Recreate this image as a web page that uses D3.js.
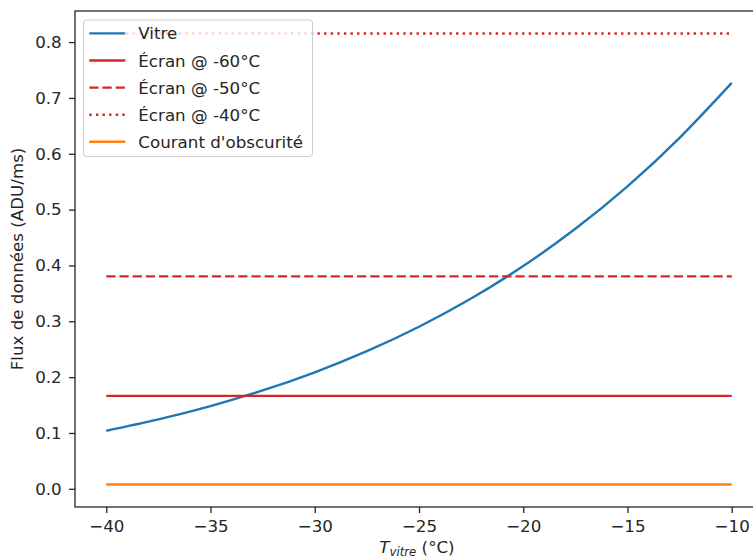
<!DOCTYPE html>
<html><head><meta charset="utf-8">
<script src="https://cdn.jsdelivr.net/npm/d3@7"></script>
<style>body{margin:0;background:#fff}svg{display:block}text{font-family:"DejaVu Sans",sans-serif}</style>
</head><body><svg id="c" width="753" height="560"></svg>
<script>
const temps = [-40, -37.5, -35, -32.5, -30, -27.5, -25, -22.5, -20, -17.5, -15, -12.5, -10];
const vitre = [0.104, 0.1244, 0.1482, 0.1761, 0.2087, 0.2465, 0.2903, 0.3408, 0.3989, 0.4656, 0.5417, 0.6285, 0.7269];
const flatRange = [-40, -10];
const ecran60 = 0.1665;
const ecran50 = 0.3805;
const ecran40 = 0.8153;
const darkCurrent = 0.0078;
const xTicks = [-40, -35, -30, -25, -20, -15, -10];
const yTicks = [0.0, 0.1, 0.2, 0.3, 0.4, 0.5, 0.6, 0.7, 0.8];
const legendLabels = ["Vitre", "Écran @ -60°C", "Écran @ -50°C", "Écran @ -40°C", "Courant d'obscurité"];

const FS = 16.7, LW = 2.4;
const svg = d3.select("#c");
const L = 75, R = 763, T = 11, B = 507;
const x = d3.scaleLinear().domain([-41.5, -8.5]).range([L, R]);
const yMin = darkCurrent, yMax = ecran40, pad = (yMax - yMin) * 0.05;
const y = d3.scaleLinear().domain([yMin - pad, yMax + pad]).range([B, T]);

const line = d3.line().x(d => x(d[0])).y(d => y(d[1]));
const g = svg.append("g");

const series = [
  {pts: temps.map((t, i) => [t, vitre[i]]), color: "#1f77b4", dash: null, curve: d3.curveNatural},
  {pts: flatRange.map(t => [t, ecran60]), color: "#d62728", dash: null},
  {pts: flatRange.map(t => [t, ecran50]), color: "#d62728", dash: "9.2,4"},
  {pts: flatRange.map(t => [t, ecran40]), color: "#d62728", dash: "2.4,4.2"},
  {pts: flatRange.map(t => [t, darkCurrent]), color: "#ff7f0e", dash: null}
];
series.forEach(s => {
  g.append("path").attr("d", line.curve(s.curve || d3.curveLinear)(s.pts))
    .attr("fill", "none").attr("stroke", s.color).attr("stroke-width", LW)
    .attr("stroke-dasharray", s.dash);
});

// axes
const fmtX = d => (d < 0 ? "\u2212" + Math.abs(d) : "" + d);
const xAxis = svg.append("g").attr("transform", `translate(0,${B})`)
  .call(d3.axisBottom(x).tickValues(xTicks).tickFormat(fmtX).tickSize(6).tickPadding(7.5));
const yAxis = svg.append("g").attr("transform", `translate(${L},0)`)
  .call(d3.axisLeft(y).tickValues(yTicks).tickFormat(d3.format(".1f")).tickSize(6).tickPadding(7.3));
[xAxis, yAxis].forEach(a => {
  a.selectAll("text").attr("font-size", FS).attr("fill", "#262626").attr("font-family", "DejaVu Sans");
  a.selectAll("line").attr("stroke", "#262626").attr("stroke-width", 1.3);
  a.select(".domain").remove();
});
// spines
svg.append("rect").attr("x", L).attr("y", T).attr("width", R - L).attr("height", B - T)
  .attr("fill", "none").attr("stroke", "#262626").attr("stroke-width", 1.3);

// axis labels
svg.append("text").attr("transform", `translate(23,${(T + B) / 2}) rotate(-90)`)
  .attr("text-anchor", "middle").attr("font-size", FS).attr("fill", "#262626")
  .text("Flux de données (ADU/ms)");
const xl = svg.append("text").attr("x", (L + R) / 2 - 2).attr("y", 553)
  .attr("text-anchor", "middle").attr("font-size", FS).attr("fill", "#262626");
xl.append("tspan").attr("font-style", "italic").text("T");
xl.append("tspan").attr("font-style", "italic").attr("font-size", FS * 0.7).attr("dy", 3).text("vitre");
xl.append("tspan").attr("dy", -3).text(" (°C)");

// legend
const lg = svg.append("g");
lg.append("rect").attr("x", 83.5).attr("y", 20).attr("width", 229).attr("height", 136.5)
  .attr("rx", 3).attr("fill", "#fff").attr("fill-opacity", 0.8)
  .attr("stroke", "#cccccc").attr("stroke-width", 1);
legendLabels.forEach((lab, i) => {
  const cy = 33.4 + i * 27.1;
  lg.append("line").attr("x1", 89.3).attr("x2", 125.3).attr("y1", cy).attr("y2", cy)
    .attr("stroke", series[i].color).attr("stroke-width", LW).attr("stroke-dasharray", series[i].dash);
  lg.append("text").attr("x", 138.3).attr("y", cy + 6).attr("font-size", FS).attr("fill", "#262626").text(lab);
});
</script></body></html>
